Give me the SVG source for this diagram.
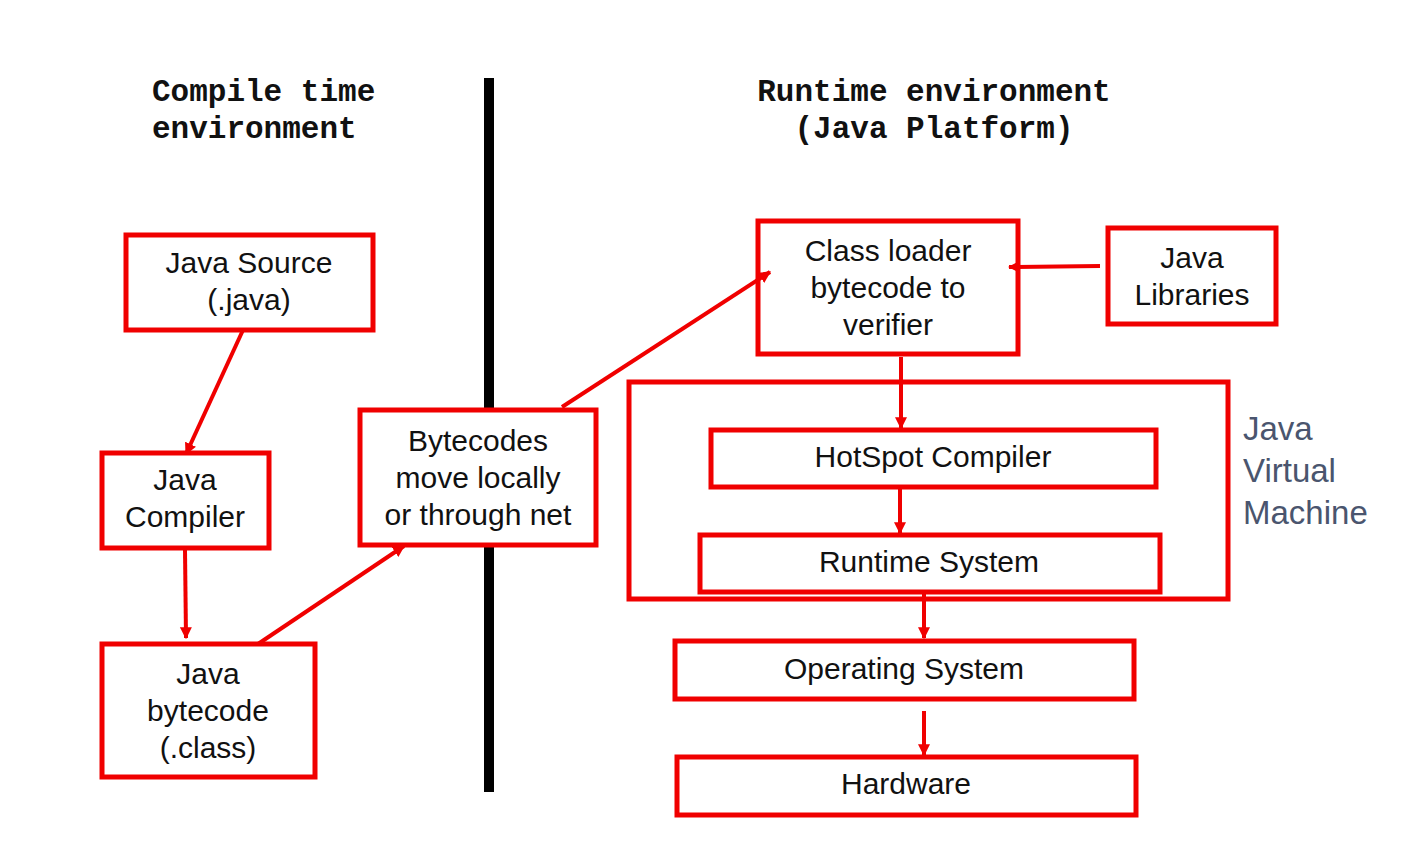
<svg xmlns="http://www.w3.org/2000/svg" width="1423" height="863" viewBox="0 0 1423 863">
<style>
.box{fill:#fff;stroke:#f00000;stroke-width:5}
.t{font-family:"Liberation Sans",Arial,sans-serif;font-size:30px;fill:#111;text-anchor:middle}
.h{font-family:"Liberation Mono","Courier New",monospace;font-weight:bold;font-size:31px;fill:#111}
.c{stroke:#f00000;stroke-width:4;fill:none;marker-end:url(#ah)}
.jvm{font-family:"Liberation Sans",Arial,sans-serif;font-size:33px;fill:#4a556e}
</style>
<defs>
<marker id="ah" viewBox="0 0 10 10" refX="9" refY="5" markerWidth="3" markerHeight="3.2" orient="auto" markerUnits="strokeWidth">
<path d="M0,0 L10,5 L0,10 z" fill="#f00000"/>
</marker>
</defs>
<rect width="1423" height="863" fill="#fff"/>
<g id="headers">
<text class="h" x="152" y="101">Compile time</text>
<text class="h" x="152" y="138">environment</text>
<text class="h" x="934" y="101" text-anchor="middle">Runtime environment</text>
<text class="h" x="934" y="138" text-anchor="middle">(Java Platform)</text>
</g>
<g id="divider"><rect x="484" y="78" width="10" height="714" fill="#000"/></g>
<g id="jvm">
<rect class="box" x="629" y="382" width="599" height="217"/>
<text class="jvm" x="1243" y="440">Java</text>
<text class="jvm" x="1243" y="482">Virtual</text>
<text class="jvm" x="1243" y="524">Machine</text>
</g>
<g id="java-source"><rect class="box" x="126" y="235" width="247" height="95"/>
<text class="t" x="249" y="273">Java Source</text><text class="t" x="249" y="310">(.java)</text></g>
<g id="java-compiler"><rect class="box" x="102" y="453" width="167" height="95"/>
<text class="t" x="185" y="490">Java</text><text class="t" x="185" y="527">Compiler</text></g>
<g id="java-bytecode"><rect class="box" x="102" y="644" width="213" height="133"/>
<text class="t" x="208" y="684">Java</text><text class="t" x="208" y="721">bytecode</text><text class="t" x="208" y="758">(.class)</text></g>
<g id="bytecodes-move"><rect class="box" x="360" y="410" width="236" height="135"/>
<text class="t" x="478" y="451">Bytecodes</text><text class="t" x="478" y="488">move locally</text><text class="t" x="478" y="525">or through net</text></g>
<g id="class-loader"><rect class="box" x="758" y="221" width="260" height="133"/>
<text class="t" x="888" y="261">Class loader</text><text class="t" x="888" y="298">bytecode to</text><text class="t" x="888" y="335">verifier</text></g>
<g id="java-libraries"><rect class="box" x="1108" y="228" width="168" height="96"/>
<text class="t" x="1192" y="268">Java</text><text class="t" x="1192" y="305">Libraries</text></g>
<g id="hotspot"><rect class="box" x="711" y="430" width="445" height="57"/>
<text class="t" x="933" y="467">HotSpot Compiler</text></g>
<g id="runtime-system"><rect class="box" x="700" y="535" width="460" height="57"/>
<text class="t" x="929" y="572">Runtime System</text></g>
<g id="operating-system"><rect class="box" x="675" y="641" width="459" height="58"/>
<text class="t" x="904" y="679">Operating System</text></g>
<g id="hardware"><rect class="box" x="677" y="757" width="459" height="58"/>
<text class="t" x="906" y="794">Hardware</text></g>
<g id="connectors">
<line class="c" x1="243" y1="330" x2="186" y2="454"/>
<line class="c" x1="185" y1="550" x2="186" y2="638"/>
<line class="c" x1="258" y1="644" x2="404" y2="546"/>
<line class="c" x1="562" y1="407" x2="770" y2="272"/>
<line class="c" x1="1100" y1="266" x2="1009" y2="267"/>
<line class="c" x1="901" y1="357" x2="901" y2="428"/>
<line class="c" x1="900" y1="489" x2="900" y2="533"/>
<line class="c" x1="924" y1="594" x2="924" y2="638"/>
<line class="c" x1="924" y1="711" x2="924" y2="755"/>
</g>
</svg>
